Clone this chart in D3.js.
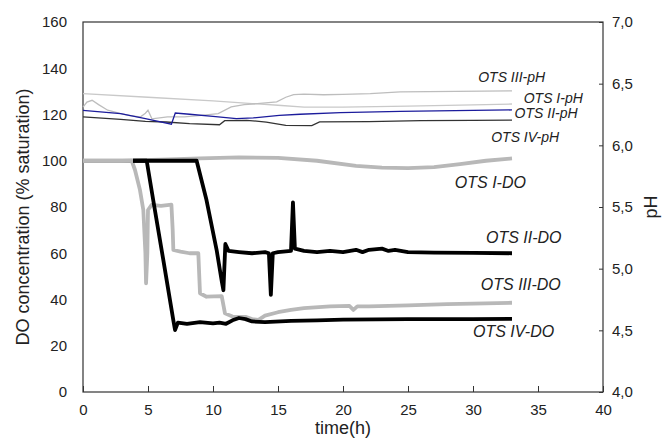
<!DOCTYPE html>
<html>
<head>
<meta charset="utf-8">
<script src="https://cdn.jsdelivr.net/npm/d3@7"></script>
<style>
  html, body { margin: 0; padding: 0; background: #fff; }
  #chart { width: 669px; height: 440px; }
  text { font-family: "Liberation Sans", Arial, sans-serif; fill: #222; }
</style>
</head>
<body>
<div id="chart"></div>
<script>
// DO (% saturation) and pH over time. Each point is [time h, value].
const doTicks = [0, 20, 40, 60, 80, 100, 120, 140, 160];
const phTicks = [4.0, 4.5, 5.0, 5.5, 6.0, 6.5, 7.0];
const timeTicks = [0, 5, 10, 15, 20, 25, 30, 35, 40];

const doI = [[0,100],[3,100],[6,100.5],[9,101],[12,101.5],[15,101.2],[18,100],[21,97.8],[23,97],[25,96.8],[27,97.2],[29,98.5],[31,100],[33,101]];
const doII = [[3.85,100],[8.74,100],[9.5,83],[10.28,61.4],[10.67,48],[10.8,44],[10.95,64],[11.2,61],[12,60.5],[13,60],[14,60.5],[14.3,60],[14.45,42],[14.6,60],[15,60.5],[16,61],[16.15,82],[16.3,62],[17,61],[18,60.5],[19,61],[20,60.5],[21,61.5],[21.5,60.5],[22,61.5],[23,62],[23.5,61],[24,61.5],[25,60.5],[27,60.3],[30,60.2],[33,60]];
const doIII = [[0,100],[3.75,100],[4.0,96],[4.38,87.4],[4.64,78.7],[4.8,60],[4.85,47],[4.95,60],[5.0,78.7],[5.28,80.9],[6,80.5],[6.8,81],[6.9,70],[6.95,61.4],[7.5,60.7],[8.2,60],[8.87,60],[9.0,42.7],[9.5,41.2],[10.67,41.5],[10.92,34],[11.5,32.6],[12.5,32.5],[13,31.5],[13.5,31.2],[14,33],[15,34.5],[16,35.5],[17,36.3],[19,37],[20.5,37.2],[20.8,35.5],[21.1,37],[22,37],[25,37.5],[28,38],[30,38.2],[33,38.6]];
const doIV = [[3.85,100],[4.9,100],[5.4,83],[6.18,57],[6.95,31],[7.08,26.8],[7.3,30],[8,29.5],[9,30.2],[10,29.7],[10.5,30],[11,29.5],[11.5,31],[12,32],[12.5,31.5],[13,30.5],[14,30.2],[16,30.8],[18,31],[20,31.3],[25,31.5],[30,31.5],[33,31.6]];
const doStart = [[0,100],[3.85,100]];

const phI = [[0,6.42],[5,6.39],[10,6.36],[15,6.325],[17,6.31],[20,6.31],[25,6.318],[30,6.328],[33,6.335]];
const phII = [[0,6.284],[2.9,6.257],[4.8,6.216],[6.8,6.171],[7.1,6.262],[8.2,6.252],[10,6.235],[11.8,6.216],[13.1,6.222],[15.1,6.243],[16.7,6.252],[19.8,6.265],[24.4,6.276],[33,6.287]];
const phIII = [[0,6.31],[0.3,6.35],[0.7,6.365],[1.2,6.33],[1.9,6.285],[2.9,6.257],[3.6,6.24],[4.4,6.23],[4.8,6.26],[5.0,6.285],[5.3,6.215],[6.5,6.23],[7.8,6.23],[9.1,6.243],[10.4,6.257],[11.4,6.312],[12.4,6.33],[13.4,6.338],[14.9,6.353],[15.6,6.39],[16.2,6.411],[17,6.415],[18.5,6.41],[20,6.413],[22.1,6.419],[24.4,6.433],[28.7,6.438],[33,6.441]];
const phIV = [[0,6.23],[2.9,6.211],[4.8,6.195],[6.4,6.189],[8.2,6.176],[10.5,6.167],[10.9,6.2],[12.6,6.203],[14.1,6.189],[15.6,6.162],[17.6,6.16],[18.2,6.19],[22,6.192],[26,6.2],[30,6.203],[33,6.205]];

// label text + anchor (time, value on its own axis)
const doLabels = [["OTS I-DO", 28.6, 90.8], ["OTS II-DO", 31, 66.9], ["OTS III-DO", 30.6, 46.6], ["OTS IV-DO", 30, 26]];
const phLabels = [["OTS III-pH", 30.4, 6.55], ["OTS I-pH", 33.9, 6.385], ["OTS II-pH", 33.2, 6.26], ["OTS IV-pH", 31.4, 6.07]];

(function () {
  const W = 669, H = 440;
  const m = { top: 22, right: 66, bottom: 48, left: 83 };

  const svg = d3.select("#chart").append("svg").attr("width", W).attr("height", H);

  const x = d3.scaleLinear().domain([0, 40]).range([m.left, W - m.right]);
  const yDo = d3.scaleLinear().domain([0, 160]).range([H - m.bottom, m.top]);
  const yPh = d3.scaleLinear().domain([4, 7]).range([H - m.bottom, m.top]);

  // frame
  svg.append("rect")
    .attr("x", m.left).attr("y", m.top)
    .attr("width", W - m.left - m.right).attr("height", H - m.top - m.bottom)
    .attr("fill", "none").attr("stroke", "#333").attr("stroke-width", 1.2);

  const lineDo = d3.line().x(d => x(d[0])).y(d => yDo(d[1]));
  const linePh = d3.line().x(d => x(d[0])).y(d => yPh(d[1]));

  const thin = [[phI, "#c9c9c9"], [phIII, "#bdbdbd"], [phIV, "#333333"], [phII, "#1c1c9c"]];
  thin.forEach(([d, c]) => {
    svg.append("path").datum(d).attr("d", linePh)
      .attr("fill", "none").attr("stroke", c).attr("stroke-width", 1.3);
  });

  // thin dark trace peeking under the grey at the start
  svg.append("path").datum(doStart).attr("d", lineDo)
    .attr("fill", "none").attr("stroke", "#222").attr("stroke-width", 1.2)
    .attr("transform", "translate(0,1.5)");

  const thick = [[doI, "#b8b8b8"], [doIII, "#b8b8b8"], [doIV, "#000"], [doII, "#000"]];
  thick.forEach(([d, c]) => {
    svg.append("path").datum(d).attr("d", lineDo)
      .attr("fill", "none").attr("stroke", c).attr("stroke-width", 3.8)
      .attr("stroke-linejoin", "round");
  });

  // axes
  const fs = "15px";
  const bottom = svg.append("g").attr("transform", `translate(0,${H - m.bottom})`)
    .call(d3.axisBottom(x).tickValues(timeTicks).tickSizeInner(-6).tickSizeOuter(0).tickPadding(12));
  const left = svg.append("g").attr("transform", `translate(${m.left},0)`)
    .call(d3.axisLeft(yDo).tickValues(doTicks).tickSize(0).tickPadding(16));
  const right = svg.append("g").attr("transform", `translate(${W - m.right},0)`)
    .call(d3.axisRight(yPh).tickValues(phTicks).tickSizeInner(-4).tickSizeOuter(0).tickPadding(9)
      .tickFormat(d => d3.format(".1f")(d).replace(".", ",")));
  [bottom, left, right].forEach(g => {
    g.select(".domain").remove();
    g.selectAll("line").attr("stroke", "#333");
    g.selectAll("text").style("font-size", fs).attr("fill", "#222")
      .style("font-family", '"Liberation Sans", Arial, sans-serif');
  });

  svg.append("text").attr("x", (m.left + W - m.right) / 2).attr("y", 434)
    .attr("text-anchor", "middle").style("font-size", "18px").text("time(h)");
  svg.append("text").attr("transform", `translate(29,${(m.top + H - m.bottom) / 2 + 10}) rotate(-90)`)
    .attr("text-anchor", "middle").style("font-size", "18px").text("DO concentration (% saturation)");
  svg.append("text").attr("transform", `translate(657,${(m.top + H - m.bottom) / 2}) rotate(-90)`)
    .attr("text-anchor", "middle").style("font-size", "18px").text("pH");

  const lab = (arr, y, size) => arr.forEach(([t, xv, yv]) => {
    svg.append("text").attr("x", x(xv)).attr("y", y(yv))
      .attr("dy", "0.35em").style("font-size", size).style("font-style", "italic").text(t);
  });
  lab(doLabels, yDo, "16px");
  lab(phLabels, yPh, "14px");
})();
</script>
</body>
</html>
